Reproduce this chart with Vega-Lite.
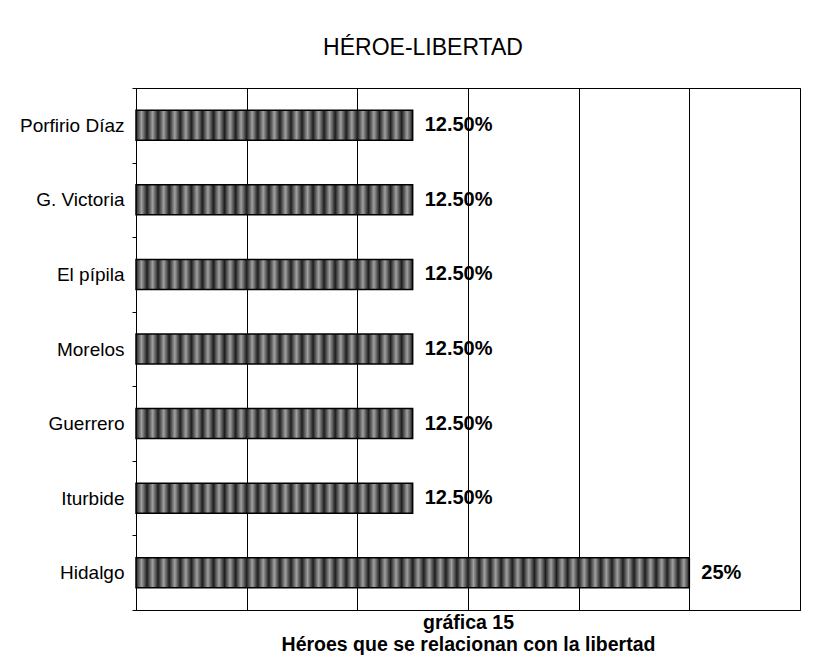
{
  "$schema": "https://vega.github.io/schema/vega-lite/v6.json",
  "width": 664,
  "height": 522,
  "autosize": "none",
  "padding": {"left": 136, "top": 88, "right": 37, "bottom": 59},
  "background": "white",
  "title": {
    "text": "HÉROE-LIBERTAD",
    "font": "Liberation Sans",
    "fontSize": 23,
    "fontWeight": "normal",
    "color": "black",
    "anchor": "middle",
    "baseline": "alphabetic",
    "dx": -45,
    "offset": 1
  },
  "data": {
    "values": [
      {"heroe": "Porfirio Díaz", "pct": 0.125, "label": "12.50%"},
      {"heroe": "G. Victoria", "pct": 0.125, "label": "12.50%"},
      {"heroe": "El pípila", "pct": 0.125, "label": "12.50%"},
      {"heroe": "Morelos", "pct": 0.125, "label": "12.50%"},
      {"heroe": "Guerrero", "pct": 0.125, "label": "12.50%"},
      {"heroe": "Iturbide", "pct": 0.125, "label": "12.50%"},
      {"heroe": "Hidalgo", "pct": 0.25, "label": "25%"}
    ]
  },
  "encoding": {
    "y": {
      "field": "heroe",
      "type": "nominal",
      "sort": ["Porfirio Díaz", "G. Victoria", "El pípila", "Morelos", "Guerrero", "Iturbide", "Hidalgo"],
      "scale": {"paddingInner": 0, "paddingOuter": 0},
      "axis": {
        "title": null,
        "labelFont": "Liberation Sans",
        "labelFontSize": 19,
        "labelColor": "black",
        "labelPadding": 8,
        "labelBaseline": "middle",
        "tickBand": "extent",
        "tickSize": 4,
        "tickColor": "black",
        "domainColor": "black",
        "grid": false
      }
    },
    "x": {
      "field": "pct",
      "type": "quantitative",
      "scale": {"domain": [0, 0.3], "nice": false},
      "axis": {
        "title": ["gráfica 15", "Héroes que se relacionan con la libertad"],
        "titleFont": "Liberation Sans",
        "titleFontSize": 19.5,
        "titleFontWeight": "bold",
        "titleColor": "black",
        "titlePadding": 3,
        "titleLineHeight": 22,
        "labels": false,
        "ticks": false,
        "domain": true,
        "domainColor": "black",
        "grid": true,
        "gridColor": "black",
        "gridOpacity": 1,
        "values": [0, 0.05, 0.1, 0.15, 0.2, 0.25, 0.3]
      }
    }
  },
  "layer": [
    {
      "mark": {"type": "bar", "size": 30, "stroke": "black", "strokeWidth": 1.5},
      "encoding": {
        "fill": {
          "condition": {
            "test": "datum.pct > 0.2",
            "value": {
              "gradient": "linear", "x1": 0, "y1": 0, "x2": 1, "y2": 0,
              "stops": [
                {"offset": 0, "color": "#1e1e1e"}, {"offset": 0.01, "color": "#a0a0a0"},
                {"offset": 0.02, "color": "#1e1e1e"}, {"offset": 0.03, "color": "#a0a0a0"},
                {"offset": 0.04, "color": "#1e1e1e"}, {"offset": 0.05, "color": "#a0a0a0"},
                {"offset": 0.06, "color": "#1e1e1e"}, {"offset": 0.07, "color": "#a0a0a0"},
                {"offset": 0.08, "color": "#1e1e1e"}, {"offset": 0.09, "color": "#a0a0a0"},
                {"offset": 0.1, "color": "#1e1e1e"}, {"offset": 0.11, "color": "#a0a0a0"},
                {"offset": 0.12, "color": "#1e1e1e"}, {"offset": 0.13, "color": "#a0a0a0"},
                {"offset": 0.14, "color": "#1e1e1e"}, {"offset": 0.15, "color": "#a0a0a0"},
                {"offset": 0.16, "color": "#1e1e1e"}, {"offset": 0.17, "color": "#a0a0a0"},
                {"offset": 0.18, "color": "#1e1e1e"}, {"offset": 0.19, "color": "#a0a0a0"},
                {"offset": 0.2, "color": "#1e1e1e"}, {"offset": 0.21, "color": "#a0a0a0"},
                {"offset": 0.22, "color": "#1e1e1e"}, {"offset": 0.23, "color": "#a0a0a0"},
                {"offset": 0.24, "color": "#1e1e1e"}, {"offset": 0.25, "color": "#a0a0a0"},
                {"offset": 0.26, "color": "#1e1e1e"}, {"offset": 0.27, "color": "#a0a0a0"},
                {"offset": 0.28, "color": "#1e1e1e"}, {"offset": 0.29, "color": "#a0a0a0"},
                {"offset": 0.3, "color": "#1e1e1e"}, {"offset": 0.31, "color": "#a0a0a0"},
                {"offset": 0.32, "color": "#1e1e1e"}, {"offset": 0.33, "color": "#a0a0a0"},
                {"offset": 0.34, "color": "#1e1e1e"}, {"offset": 0.35, "color": "#a0a0a0"},
                {"offset": 0.36, "color": "#1e1e1e"}, {"offset": 0.37, "color": "#a0a0a0"},
                {"offset": 0.38, "color": "#1e1e1e"}, {"offset": 0.39, "color": "#a0a0a0"},
                {"offset": 0.4, "color": "#1e1e1e"}, {"offset": 0.41, "color": "#a0a0a0"},
                {"offset": 0.42, "color": "#1e1e1e"}, {"offset": 0.43, "color": "#a0a0a0"},
                {"offset": 0.44, "color": "#1e1e1e"}, {"offset": 0.45, "color": "#a0a0a0"},
                {"offset": 0.46, "color": "#1e1e1e"}, {"offset": 0.47, "color": "#a0a0a0"},
                {"offset": 0.48, "color": "#1e1e1e"}, {"offset": 0.49, "color": "#a0a0a0"},
                {"offset": 0.5, "color": "#1e1e1e"}, {"offset": 0.51, "color": "#a0a0a0"},
                {"offset": 0.52, "color": "#1e1e1e"}, {"offset": 0.53, "color": "#a0a0a0"},
                {"offset": 0.54, "color": "#1e1e1e"}, {"offset": 0.55, "color": "#a0a0a0"},
                {"offset": 0.56, "color": "#1e1e1e"}, {"offset": 0.57, "color": "#a0a0a0"},
                {"offset": 0.58, "color": "#1e1e1e"}, {"offset": 0.59, "color": "#a0a0a0"},
                {"offset": 0.6, "color": "#1e1e1e"}, {"offset": 0.61, "color": "#a0a0a0"},
                {"offset": 0.62, "color": "#1e1e1e"}, {"offset": 0.63, "color": "#a0a0a0"},
                {"offset": 0.64, "color": "#1e1e1e"}, {"offset": 0.65, "color": "#a0a0a0"},
                {"offset": 0.66, "color": "#1e1e1e"}, {"offset": 0.67, "color": "#a0a0a0"},
                {"offset": 0.68, "color": "#1e1e1e"}, {"offset": 0.69, "color": "#a0a0a0"},
                {"offset": 0.7, "color": "#1e1e1e"}, {"offset": 0.71, "color": "#a0a0a0"},
                {"offset": 0.72, "color": "#1e1e1e"}, {"offset": 0.73, "color": "#a0a0a0"},
                {"offset": 0.74, "color": "#1e1e1e"}, {"offset": 0.75, "color": "#a0a0a0"},
                {"offset": 0.76, "color": "#1e1e1e"}, {"offset": 0.77, "color": "#a0a0a0"},
                {"offset": 0.78, "color": "#1e1e1e"}, {"offset": 0.79, "color": "#a0a0a0"},
                {"offset": 0.8, "color": "#1e1e1e"}, {"offset": 0.81, "color": "#a0a0a0"},
                {"offset": 0.82, "color": "#1e1e1e"}, {"offset": 0.83, "color": "#a0a0a0"},
                {"offset": 0.84, "color": "#1e1e1e"}, {"offset": 0.85, "color": "#a0a0a0"},
                {"offset": 0.86, "color": "#1e1e1e"}, {"offset": 0.87, "color": "#a0a0a0"},
                {"offset": 0.88, "color": "#1e1e1e"}, {"offset": 0.89, "color": "#a0a0a0"},
                {"offset": 0.9, "color": "#1e1e1e"}, {"offset": 0.91, "color": "#a0a0a0"},
                {"offset": 0.92, "color": "#1e1e1e"}, {"offset": 0.93, "color": "#a0a0a0"},
                {"offset": 0.94, "color": "#1e1e1e"}, {"offset": 0.95, "color": "#a0a0a0"},
                {"offset": 0.96, "color": "#1e1e1e"}, {"offset": 0.97, "color": "#a0a0a0"},
                {"offset": 0.98, "color": "#1e1e1e"}, {"offset": 0.99, "color": "#a0a0a0"},
                {"offset": 1, "color": "#1e1e1e"}
              ]
            }
          },
          "value": {
            "gradient": "linear", "x1": 0, "y1": 0, "x2": 1, "y2": 0,
            "stops": [
              {"offset": 0, "color": "#1e1e1e"}, {"offset": 0.02, "color": "#a0a0a0"},
              {"offset": 0.04, "color": "#1e1e1e"}, {"offset": 0.06, "color": "#a0a0a0"},
              {"offset": 0.08, "color": "#1e1e1e"}, {"offset": 0.1, "color": "#a0a0a0"},
              {"offset": 0.12, "color": "#1e1e1e"}, {"offset": 0.14, "color": "#a0a0a0"},
              {"offset": 0.16, "color": "#1e1e1e"}, {"offset": 0.18, "color": "#a0a0a0"},
              {"offset": 0.2, "color": "#1e1e1e"}, {"offset": 0.22, "color": "#a0a0a0"},
              {"offset": 0.24, "color": "#1e1e1e"}, {"offset": 0.26, "color": "#a0a0a0"},
              {"offset": 0.28, "color": "#1e1e1e"}, {"offset": 0.3, "color": "#a0a0a0"},
              {"offset": 0.32, "color": "#1e1e1e"}, {"offset": 0.34, "color": "#a0a0a0"},
              {"offset": 0.36, "color": "#1e1e1e"}, {"offset": 0.38, "color": "#a0a0a0"},
              {"offset": 0.4, "color": "#1e1e1e"}, {"offset": 0.42, "color": "#a0a0a0"},
              {"offset": 0.44, "color": "#1e1e1e"}, {"offset": 0.46, "color": "#a0a0a0"},
              {"offset": 0.48, "color": "#1e1e1e"}, {"offset": 0.5, "color": "#a0a0a0"},
              {"offset": 0.52, "color": "#1e1e1e"}, {"offset": 0.54, "color": "#a0a0a0"},
              {"offset": 0.56, "color": "#1e1e1e"}, {"offset": 0.58, "color": "#a0a0a0"},
              {"offset": 0.6, "color": "#1e1e1e"}, {"offset": 0.62, "color": "#a0a0a0"},
              {"offset": 0.64, "color": "#1e1e1e"}, {"offset": 0.66, "color": "#a0a0a0"},
              {"offset": 0.68, "color": "#1e1e1e"}, {"offset": 0.7, "color": "#a0a0a0"},
              {"offset": 0.72, "color": "#1e1e1e"}, {"offset": 0.74, "color": "#a0a0a0"},
              {"offset": 0.76, "color": "#1e1e1e"}, {"offset": 0.78, "color": "#a0a0a0"},
              {"offset": 0.8, "color": "#1e1e1e"}, {"offset": 0.82, "color": "#a0a0a0"},
              {"offset": 0.84, "color": "#1e1e1e"}, {"offset": 0.86, "color": "#a0a0a0"},
              {"offset": 0.88, "color": "#1e1e1e"}, {"offset": 0.9, "color": "#a0a0a0"},
              {"offset": 0.92, "color": "#1e1e1e"}, {"offset": 0.94, "color": "#a0a0a0"},
              {"offset": 0.96, "color": "#1e1e1e"}, {"offset": 0.98, "color": "#a0a0a0"},
              {"offset": 1, "color": "#1e1e1e"}
            ]
          }
        }
      }
    },
    {
      "mark": {
        "type": "text",
        "align": "left",
        "baseline": "middle",
        "dx": 12,
        "font": "Liberation Sans",
        "fontSize": 20,
        "fontWeight": "bold",
        "color": "black"
      },
      "encoding": {"text": {"field": "label"}}
    }
  ],
  "config": {"view": {"stroke": "black", "strokeWidth": 1}}
}
